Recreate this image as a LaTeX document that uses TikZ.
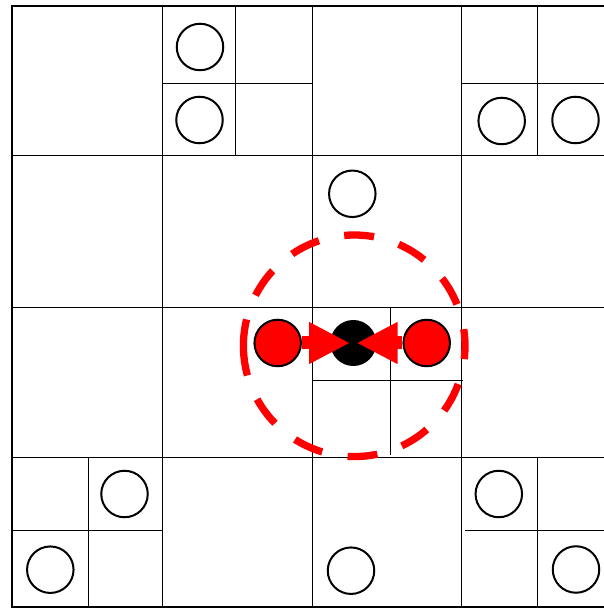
\documentclass[tikz,border=0pt]{standalone}
\usepackage{tikz}
\usetikzlibrary{arrows.meta}
\definecolor{ink}{RGB}{0,0,0}
\definecolor{hotred}{RGB}{255,0,0}

\begin{document}
\begin{tikzpicture}[x=1pt, y=1pt,
    gridline/.style={ink, line width=0.9pt},
    frameline/.style={ink, line width=2.3pt},
    particle/.style={circle, draw=ink, line width=2pt, minimum size=46.5pt, inner sep=0pt},
    hotparticle/.style={particle, fill=hotred},
    coreparticle/.style={circle, fill=ink, minimum size=46pt, inner sep=0pt},
    pusharrow/.style={hotred, line width=13pt, -{Triangle[length=41pt, width=39pt]}, shorten >=3.3pt},
    rangering/.style={hotred, line width=7.3pt, dash pattern=on 30pt off 25.8pt}]

        \useasboundingbox (0,0) rectangle (604,608);
        \clip (0,0) rectangle (604,608);

        % main grid
        \foreach \gx in {162.3,312.7,461.9}
          \draw[gridline] (\gx,0.7) -- (\gx,602.3);
        \foreach \gy in {452.3,300.7,150.7}
          \draw[gridline] (11.7,\gy) -- (612.3,\gy);
        \draw[frameline] (11.7,0.7) rectangle (612.3,602.3);

        % refined cells
        \draw[gridline] (235.7,602.3) -- (235.7,452.3);
        \draw[gridline] (162.3,524.7) -- (312.7,524.7);
        \draw[gridline] (537.7,602.3) -- (537.7,452.3);
        \draw[gridline] (461.9,524.7) -- (612.3,524.7);
        \draw[gridline] (390.7,300.7) -- (390.7,153.0);
        \draw[gridline] (312.7,228.0) -- (463.0,228.0);
        \draw[gridline] (88.0,150.7) -- (88.0,0.7);
        \draw[gridline] (11.7,77.7) -- (162.3,77.7);
        \draw[gridline] (537.7,150.7) -- (537.7,0.7);
        \draw[gridline] (465.0,77.7) -- (612.3,77.7);

        % particles
        \node[particle] (p1) at (200.0,561.0) {};
        \node[particle] (p2) at (199.5,488.0) {};
        \node[particle] (p3) at (501.7,487.0) {};
        \node[particle] (p4) at (575.5,488.0) {};
        \node[particle] (p5) at (352.3,414.2) {};
        \node[particle] (p6) at (351.0,37.3) {};
        \node[particle] (p7) at (124.5,114.0) {};
        \node[particle] (p8) at (50.3,38.3) {};
        \node[particle] (p9) at (498.8,114.0) {};
        \node[particle] (p10) at (576.0,38.5) {};

        % interaction range
        \coordinate (ringc) at (354.2,262.2);
        \draw[rangering] (ringc) ++(180:110.8) arc[start angle=180, end angle=540, radius=110.8];

        % pair forces on the core particle
        \node[coreparticle] (pC) at (353.3,265.0) {};
        \node[hotparticle] (pL) at (277.7,265.0) {};
        \node[hotparticle] (pR) at (426.7,265.0) {};
        \draw[pusharrow] (pL) -- (pC.center);
        \draw[pusharrow] (pR) -- (pC.center);
      \end{tikzpicture}
\end{document}
